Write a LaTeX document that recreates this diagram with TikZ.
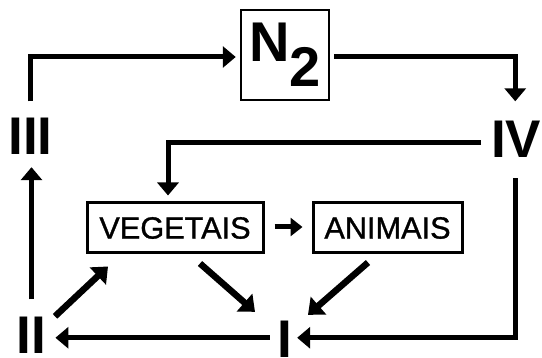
\documentclass[tikz,border=0pt]{standalone}
\usepackage{fontspec}
\setmainfont{Liberation Sans}
\newfontfamily\orgfont[FakeBold=1]{Liberation Sans}
\usetikzlibrary{arrows.meta,calc}
\begin{document}
\begin{tikzpicture}[x=1pt,y=-1pt,
  numeral/.style={inner sep=0pt,font=\fontsize{53}{53}\selectfont\bfseries},
  organism/.style={draw,line width=3pt,inner sep=0pt,minimum height=50pt,font=\orgfont\fontsize{30.7}{30.7}\selectfont},
  mainline/.style={line width=5pt,-{Triangle[length=13pt,width=21pt]}},
  smallarr/.style={line width=5pt,-{Triangle[length=12pt,width=18pt]}},
  diagarr/.style={line width=6.5pt,-{Triangle[length=14pt,width=23pt]}}]
\useasboundingbox (0,0) rectangle (542,358);
% nodes
\node[draw,line width=2.5pt,minimum width=88pt,minimum height=90pt,inner sep=0pt,
      font=\fontsize{56}{56}\selectfont\bfseries] (N2) at (285,55) {N\raisebox{-25pt}{2}};
\node[numeral,anchor=base] (III) at (30.5,155) {III};
\node[numeral,anchor=base east] (IV) at (541.5,158) {IV};
\node[numeral,anchor=base] (II) at (31.5,354) {II};
\node[numeral,anchor=base] (I) at (285,357.5) {I};
\node[organism,minimum width=176pt] (VEG) at (175,228) {VEGETAIS};
\node[organism,minimum width=149pt] (ANI) at (387.5,228) {ANIMAIS};
% connectors
\draw[mainline] ($(III.north)+(0,-17)$) |- ($(N2.west)+(-4,2)$);
\draw[mainline] ($(N2.east)+(4,2)$) -| ($(IV.north)+(-1,-20)$);
\draw[mainline] ($(IV.west)+(-10,3)$) -| ($(VEG.north)+(-7,-6)$);
\draw[mainline] ($(IV.south)+(-1,20)$) |- ($(I.east)+(4.6,-1.5)$);
\draw[mainline] ($(I.west)+(-7.6,-1.5)$) -- ($(II.east |- I.west)+(9,-1.5)$);
\draw[mainline] ($(II.north)+(0,-18)$) -- ($(II.north |- III.south)+(0,12)$);
\draw[smallarr] ($(VEG.east)+(10,-1)$) -- ($(ANI.west)+(-9,-1)$);
\draw[diagarr] ($(II.north)+(23.5,-1)$) -- ($(VEG.south)+(-67,12)$);
\draw[diagarr] ($(VEG.south)+(25,9)$) -- ($(I.north)+(-30,-9)$);
\draw[diagarr] ($(ANI.south)+(-19.5,8)$) -- ($(I.north)+(23,-6)$);
\end{tikzpicture}
\end{document}
